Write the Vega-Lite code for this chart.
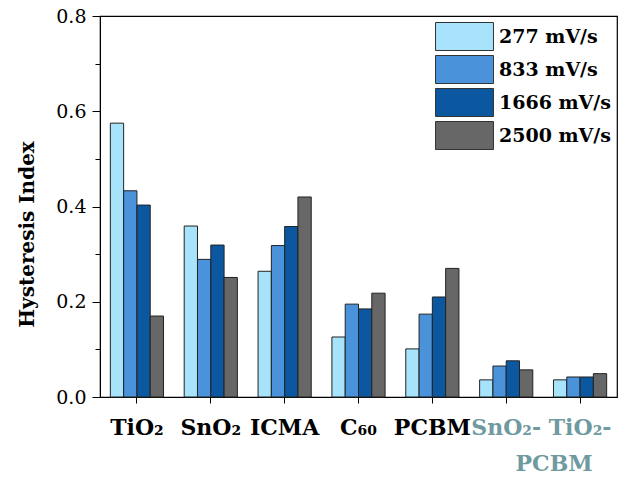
{
  "$schema": "https://vega.github.io/schema/vega-lite/v6.json",
  "width": 517,
  "height": 381,
  "padding": {"left": 17, "top": 7, "right": 5, "bottom": 5},
  "autosize": {"type": "pad"},
  "config": {
    "view": {"stroke": "#000", "strokeWidth": 1.2},
    "font": "DejaVu Serif"
  },
  "resolve": {"scale": {"x": "shared", "y": "shared"}},
  "layer": [
    {
      "data": {
        "values": [
          {"material": "TiO₂", "rate": "277 mV/s", "hi": 0.575},
          {"material": "TiO₂", "rate": "833 mV/s", "hi": 0.433},
          {"material": "TiO₂", "rate": "1666 mV/s", "hi": 0.403},
          {"material": "TiO₂", "rate": "2500 mV/s", "hi": 0.170},
          {"material": "SnO₂", "rate": "277 mV/s", "hi": 0.359},
          {"material": "SnO₂", "rate": "833 mV/s", "hi": 0.289},
          {"material": "SnO₂", "rate": "1666 mV/s", "hi": 0.319},
          {"material": "SnO₂", "rate": "2500 mV/s", "hi": 0.251},
          {"material": "ICMA", "rate": "277 mV/s", "hi": 0.264},
          {"material": "ICMA", "rate": "833 mV/s", "hi": 0.318},
          {"material": "ICMA", "rate": "1666 mV/s", "hi": 0.358},
          {"material": "ICMA", "rate": "2500 mV/s", "hi": 0.420},
          {"material": "C₆₀", "rate": "277 mV/s", "hi": 0.126},
          {"material": "C₆₀", "rate": "833 mV/s", "hi": 0.195},
          {"material": "C₆₀", "rate": "1666 mV/s", "hi": 0.185},
          {"material": "C₆₀", "rate": "2500 mV/s", "hi": 0.218},
          {"material": "PCBM", "rate": "277 mV/s", "hi": 0.101},
          {"material": "PCBM", "rate": "833 mV/s", "hi": 0.174},
          {"material": "PCBM", "rate": "1666 mV/s", "hi": 0.210},
          {"material": "PCBM", "rate": "2500 mV/s", "hi": 0.270},
          {"material": "SnO₂-PCBM", "rate": "277 mV/s", "hi": 0.036},
          {"material": "SnO₂-PCBM", "rate": "833 mV/s", "hi": 0.065},
          {"material": "SnO₂-PCBM", "rate": "1666 mV/s", "hi": 0.076},
          {"material": "SnO₂-PCBM", "rate": "2500 mV/s", "hi": 0.057},
          {"material": "TiO₂-PCBM", "rate": "277 mV/s", "hi": 0.036},
          {"material": "TiO₂-PCBM", "rate": "833 mV/s", "hi": 0.042},
          {"material": "TiO₂-PCBM", "rate": "1666 mV/s", "hi": 0.042},
          {"material": "TiO₂-PCBM", "rate": "2500 mV/s", "hi": 0.049}
        ]
      },
      "mark": {"type": "bar", "stroke": "#222", "strokeWidth": 1},
      "encoding": {
        "x": {
          "field": "material",
          "type": "nominal",
          "sort": ["TiO₂", "SnO₂", "ICMA", "C₆₀", "PCBM", "SnO₂-PCBM", "TiO₂-PCBM"],
          "scale": {"paddingInner": 0.28, "paddingOuter": 0.14},
          "axis": {
            "title": null,
            "labelAngle": 0,
            "labelFontSize": 22,
            "labelFontWeight": "bold",
            "labelPadding": 14,
            "labelExpr": "indexof(datum.label, '-') > 0 ? split(datum.label, '-')[0] + '-' : datum.label",
            "labelColor": {"condition": {"test": "indexof(datum.label, '-') > 0", "value": "#6e9aa0"}, "value": "#000"},
            "tickSize": 6,
            "tickColor": "#000",
            "domainColor": "#000",
            "labelOverlap": false
          }
        },
        "xOffset": {
          "field": "rate",
          "type": "nominal",
          "sort": ["277 mV/s", "833 mV/s", "1666 mV/s", "2500 mV/s"],
          "scale": {"paddingInner": 0, "paddingOuter": 0}
        },
        "y": {
          "field": "hi",
          "type": "quantitative",
          "scale": {"domain": [0, 0.8], "nice": false},
          "axis": {
            "values": [0, 0.1, 0.2, 0.3, 0.4, 0.5, 0.6, 0.7, 0.8],
            "labelExpr": "round(datum.value * 10) % 2 == 0 ? format(datum.value, '.1f') : ''",
            "tickSize": {"condition": {"test": "round(datum.value * 10) % 2 == 1", "value": 5}, "value": 8},
            "labelFontSize": 19,
            "labelPadding": 6,
            "labelColor": "#000",
            "tickColor": "#000",
            "domainColor": "#000",
            "grid": false,
            "title": "Hysteresis Index",
            "titleFontSize": 20,
            "titleFontWeight": "bold",
            "titleColor": "#000",
            "titlePadding": 18,
            "titleY": 218
          }
        },
        "color": {
          "field": "rate",
          "type": "nominal",
          "sort": ["277 mV/s", "833 mV/s", "1666 mV/s", "2500 mV/s"],
          "scale": {
            "domain": ["277 mV/s", "833 mV/s", "1666 mV/s", "2500 mV/s"],
            "range": ["#a7e3fa", "#4a92da", "#0b58a0", "#676767"]
          },
          "legend": {
            "title": null,
            "orient": "top-right",
            "offset": 6,
            "padding": 0,
            "symbolType": "M-2.07,-1H2.07V1H-2.07Z",
            "symbolSize": 784,
            "symbolStrokeColor": "#333",
            "symbolStrokeWidth": 1,
            "symbolOpacity": 1,
            "labelFontSize": 19,
            "labelFontWeight": "bold",
            "labelColor": "#000",
            "labelOffset": 20,
            "rowPadding": 0
          }
        }
      }
    },
    {
      "data": {"values": [{"material": "SnO₂-PCBM", "hi": -0.12, "text": "PCBM"}]},
      "mark": {"type": "text", "fontWeight": "bold", "fontSize": 22, "color": "#6e9aa0", "clip": false, "baseline": "top"},
      "encoding": {
        "x": {"field": "material", "type": "nominal", "bandPosition": 1.4, "sort": ["TiO₂", "SnO₂", "ICMA", "C₆₀", "PCBM", "SnO₂-PCBM", "TiO₂-PCBM"]},
        "y": {"field": "hi", "type": "quantitative"},
        "text": {"field": "text"}
      }
    }
  ]
}
